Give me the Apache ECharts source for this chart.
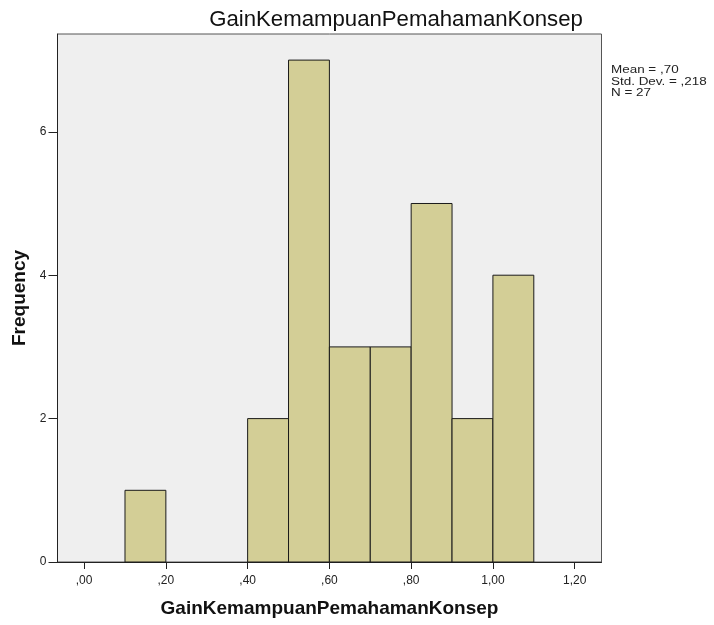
<!DOCTYPE html>
<html>
<head>
<meta charset="utf-8">
<script src="https://cdn.jsdelivr.net/npm/echarts@6/dist/echarts.min.js"></script>
<style>
html,body{margin:0;padding:0;background:#fff;}
#chart{width:714px;height:625px;}
</style>
</head>
<body>
<div id="chart"></div>
<script>
const titleText = 'GainKemampuanPemahamanKonsep';
const xAxisName = 'GainKemampuanPemahamanKonsep';
const yAxisName = 'Frequency';
const binStarts = [0.1, 0.4, 0.5, 0.6, 0.7, 0.8, 0.9, 1.0];
const binWidth = 0.1;
const counts = [1, 2, 7, 3, 3, 5, 2, 4];
const xTicks = [0, 0.2, 0.4, 0.6, 0.8, 1.0, 1.2];
const yTicks = [0, 2, 4, 6];
const statsLines = ['Mean = ,70', 'Std. Dev. = ,218', 'N = 27'];

const chart = echarts.init(document.getElementById('chart'));
const fmtX = v => {
  let s = Number(v).toFixed(2).replace('.', ',');
  if (s.startsWith('0,')) s = s.slice(1);
  return s;
};
const data = binStarts.map((s, i) => [s, s + binWidth, counts[i]]);

chart.setOption({
  animation: false,
  backgroundColor: '#ffffff',
  title: {
    text: titleText,
    left: 391, top: 4, textAlign: 'center',
    textStyle: {fontFamily: 'Liberation Sans', fontSize: 22.2, fontWeight: 'normal', color: '#111'}
  },
  grid: {
    left: 57.5, right: 112.5, top: 34, bottom: 63,
    show: true, backgroundColor: '#EFEFEF', borderColor: '#555', borderWidth: 1
  },
  xAxis: {
    type: 'value', min: -0.0651, max: 1.2656,
    name: xAxisName, nameLocation: 'middle', nameGap: 37,
    nameTextStyle: {fontFamily: 'Liberation Sans', fontSize: 19, fontWeight: 'bold', color: '#111'},
    axisLine: {show: true, onZero: false, lineStyle: {color: '#222', width: 1}},
    axisTick: {show: true, length: 7, lineStyle: {color: '#222'}, customValues: xTicks},
    axisLabel: {customValues: xTicks, formatter: fmtX, margin: 13, fontFamily: 'Liberation Sans', fontSize: 12, color: '#222'},
    splitLine: {show: false}
  },
  yAxis: {
    type: 'value', min: 0, max: 7.364,
    name: yAxisName, nameLocation: 'middle', nameGap: 28, nameRotate: 90,
    nameTextStyle: {fontFamily: 'Liberation Sans', fontSize: 19, fontWeight: 'bold', color: '#111'},
    axisLine: {show: true, onZero: false, lineStyle: {color: '#222', width: 1}},
    axisTick: {show: true, length: 9, lineStyle: {color: '#222'}, customValues: yTicks},
    axisLabel: {customValues: yTicks, margin: 11, fontFamily: 'Liberation Sans', fontSize: 12, color: '#222'},
    splitLine: {show: false}
  },
  series: [{
    type: 'custom',
    data: data,
    encode: {x: [0, 1], y: 2},
    renderItem: function (params, api) {
      const p0 = api.coord([api.value(0), 0]);
      const p1 = api.coord([api.value(1), api.value(2)]);
      return {
        type: 'rect',
        shape: {x: p0[0], y: p1[1], width: p1[0] - p0[0], height: p0[1] - p1[1]},
        style: {fill: '#D3CE96', stroke: '#1a1a1a', lineWidth: 1}
      };
    }
  }],
  graphic: [{
    type: 'text', x: 611, y: 64.5, scaleX: 1.15,
    style: {text: statsLines.join('\n'), x: 0, y: 0, verticalAlign: 'top', font: '11.7px "Liberation Sans"', lineHeight: 11.2, fill: '#222'}
  }]
});
</script>
</body>
</html>
